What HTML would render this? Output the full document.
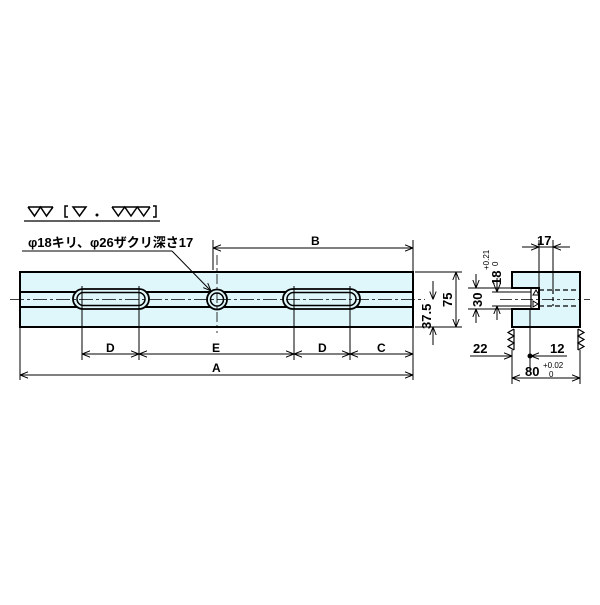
<!DOCTYPE html>
<html><head><meta charset="utf-8"><style>
html,body{margin:0;padding:0;background:#fff}
svg text{font-family:"Liberation Sans","Noto Sans CJK JP",sans-serif;fill:#000}
</style></head><body>
<svg width="600" height="600" viewBox="0 0 600 600" xmlns="http://www.w3.org/2000/svg">
<defs>
<marker id="a" viewBox="0 0 10 10" refX="10" refY="5" markerWidth="8" markerHeight="8" orient="auto-start-reverse" markerUnits="userSpaceOnUse"><path d="M0,1 L10,5 L0,9" fill="none" stroke="#000" stroke-width="1.2"/></marker>
</defs>
<g stroke="#000" fill="none">
<!-- roughness symbols -->
<path d="M28,207 H53 M28,207 L34.5,216 L40.5,207 L46.5,216 L53,207" stroke-width="1.5"/>
<path d="M73,207 H86 L79.5,216 Z" stroke-width="1.5"/>
<path d="M112,207 H150 M112,207 L118.3,216 L124.7,207 L131,216 L137.3,207 L143.7,216 L150,207" stroke-width="1.5"/>
<path d="M68,206 H65 V217 H68 M153,206 H156 V217 H153" stroke-width="1.5"/>
<circle cx="97" cy="215" r="1" fill="#000"/>
<line x1="24" y1="221" x2="160" y2="221" stroke-width="1.2"/>
<text x="28" y="247" font-size="13" font-weight="bold" stroke="none">φ18キリ、φ26ザクリ深さ17</text>
<line x1="22" y1="251" x2="172" y2="251"/>

<!-- main body -->
<rect x="20" y="272" width="393" height="55" fill="#dff6fa" stroke-width="2"/>
<line x1="20" y1="292" x2="413" y2="292" stroke-width="2"/>
<line x1="20" y1="307" x2="413" y2="307" stroke-width="2"/>
<rect x="73" y="289" width="76" height="20" rx="10" fill="#dff6fa" stroke-width="1.8"/>
<rect x="77" y="292.5" width="68" height="13" rx="6.5" stroke-width="1.5"/>
<rect x="283" y="289" width="77" height="20" rx="10" fill="#dff6fa" stroke-width="1.8"/>
<rect x="287" y="292.5" width="69" height="13" rx="6.5" stroke-width="1.5"/>
<circle cx="217" cy="299.5" r="10" fill="#dff6fa" stroke-width="1.8"/>
<circle cx="217" cy="299.5" r="6.5" stroke-width="1.5"/>
<line x1="10" y1="299.5" x2="425" y2="299.5" stroke-dasharray="14,3,3,3" stroke-width="0.8"/>
<line x1="217" y1="255" x2="217" y2="333" stroke-dasharray="10,3,3,3" stroke-width="0.8"/>
<line x1="172" y1="251" x2="211" y2="291" marker-end="url(#a)"/>
<line x1="82" y1="286" x2="82" y2="360"/>
<line x1="139" y1="286" x2="139" y2="360"/>
<line x1="294" y1="286" x2="294" y2="360"/>
<line x1="350" y1="286" x2="350" y2="360"/>
<line x1="20" y1="327" x2="20" y2="380"/>
<line x1="413" y1="240" x2="413" y2="380"/>
<line x1="213" y1="240" x2="213" y2="270"/>
<!-- dims -->
<line x1="213" y1="248" x2="413" y2="248" marker-start="url(#a)" marker-end="url(#a)"/>
<text x="311" y="245" font-size="12" font-weight="bold" stroke="none">B</text>
<line x1="82" y1="354" x2="139" y2="354" marker-start="url(#a)" marker-end="url(#a)"/>
<line x1="139" y1="354" x2="294" y2="354" marker-start="url(#a)" marker-end="url(#a)"/>
<line x1="294" y1="354" x2="350" y2="354" marker-start="url(#a)" marker-end="url(#a)"/>
<line x1="350" y1="354" x2="413" y2="354" marker-start="url(#a)" marker-end="url(#a)"/>
<text x="106" y="352" font-size="12" font-weight="bold" stroke="none">D</text>
<text x="212" y="352" font-size="12" font-weight="bold" stroke="none">E</text>
<text x="318" y="352" font-size="12" font-weight="bold" stroke="none">D</text>
<text x="377" y="352" font-size="12" font-weight="bold" stroke="none">C</text>
<line x1="20" y1="375" x2="413" y2="375" marker-start="url(#a)" marker-end="url(#a)"/>
<text x="212" y="372" font-size="12" font-weight="bold" stroke="none">A</text>
<line x1="415" y1="272" x2="462" y2="272"/>
<line x1="415" y1="327" x2="462" y2="327"/>
<line x1="456" y1="272" x2="456" y2="327" marker-start="url(#a)" marker-end="url(#a)"/>
<text transform="translate(452,307) rotate(-90)" font-size="13" font-weight="bold" stroke="none">75</text>
<line x1="433" y1="281" x2="433" y2="299.5" marker-end="url(#a)"/>
<line x1="433" y1="345" x2="433" y2="327" marker-end="url(#a)"/>
<text transform="translate(431,329) rotate(-90)" font-size="13" font-weight="bold" stroke="none">37.5</text>

<!-- side view -->
<path d="M512,272 H580 V327 H512 V309 H539 V288 H512 Z" fill="#dff6fa" stroke-width="2"/>
<line x1="500" y1="299.5" x2="590" y2="299.5" stroke-dasharray="12,3,3,3" stroke-width="0.8"/>
<line x1="539" y1="290" x2="580" y2="290" stroke-dasharray="5,3" stroke-width="1.2"/>
<line x1="539" y1="306" x2="580" y2="306" stroke-dasharray="5,3" stroke-width="1.2"/>
<line x1="553" y1="290" x2="553" y2="306" stroke-dasharray="4,3" stroke-width="1.2"/>
<line x1="531" y1="288" x2="531" y2="309" stroke-width="1.2"/>
<path d="M533,295 L536,290 L539,295 Z M533,301 L538,304 L533,307 Z" stroke-width="1"/>
<line x1="539" y1="240" x2="539" y2="288"/>
<line x1="553" y1="240" x2="553" y2="290"/>
<line x1="522" y1="247" x2="539" y2="247" marker-end="url(#a)"/>
<line x1="570" y1="247" x2="553" y2="247" marker-end="url(#a)"/>
<line x1="539" y1="247" x2="553" y2="247"/>
<text x="537" y="245" font-size="13" font-weight="bold" stroke="none">17</text>
<line x1="468" y1="288" x2="512" y2="288"/>
<line x1="468" y1="309" x2="512" y2="309"/>
<line x1="476" y1="274" x2="476" y2="288" marker-end="url(#a)"/>
<line x1="476" y1="323" x2="476" y2="309" marker-end="url(#a)"/>
<text transform="translate(482,307) rotate(-90)" font-size="13" font-weight="bold" stroke="none">30</text>
<line x1="492" y1="292" x2="531" y2="292"/>
<line x1="492" y1="306" x2="531" y2="306"/>
<line x1="497" y1="278" x2="497" y2="292" marker-end="url(#a)"/>
<line x1="497" y1="320" x2="497" y2="306" marker-end="url(#a)"/>
<text transform="translate(501,285) rotate(-90)" font-size="13" font-weight="bold" stroke="none">18</text>
<text transform="translate(489,270) rotate(-90)" font-size="8" stroke="none">+0.21</text>
<text transform="translate(498,266) rotate(-90)" font-size="8" stroke="none">0</text>
<path d="M514,329 V350 M514,329 L508,332.5 L514,336 L508,339.5 L514,343 L508,346.5 L514,350" stroke-width="1.2"/>
<path d="M578,329 V350 M578,329 L584,332.5 L578,336 L584,339.5 L578,343 L584,346.5 L578,350" stroke-width="1.2"/>
<line x1="512" y1="350" x2="512" y2="384"/>
<line x1="580" y1="350" x2="580" y2="384"/>
<line x1="530" y1="309" x2="530" y2="370"/>
<line x1="470" y1="356" x2="512" y2="356" marker-end="url(#a)"/>
<line x1="567" y1="356" x2="531" y2="356" marker-end="url(#a)"/>
<circle cx="530" cy="356" r="2" fill="#000"/>
<text x="473" y="353" font-size="13" font-weight="bold" stroke="none">22</text>
<text x="550" y="353" font-size="13" font-weight="bold" stroke="none">12</text>
<line x1="512" y1="378" x2="580" y2="378" marker-start="url(#a)" marker-end="url(#a)"/>
<text x="525" y="376" font-size="13" font-weight="bold" stroke="none">80</text>
<text x="543" y="368" font-size="8" stroke="none">+0.02</text>
<text x="549" y="377" font-size="8" stroke="none">0</text>
</g>
</svg>
</body></html>
